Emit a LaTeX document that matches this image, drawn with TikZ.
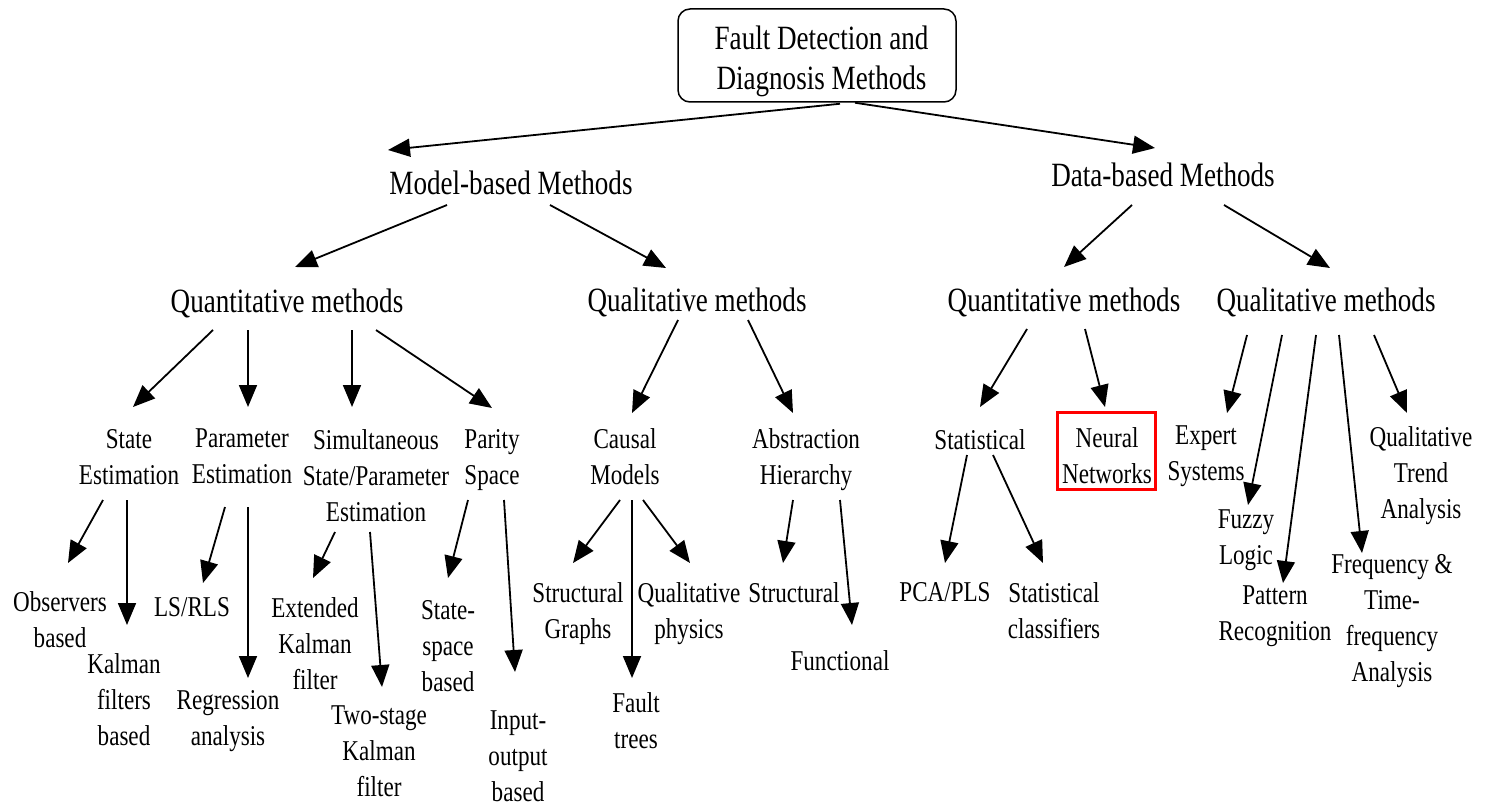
\documentclass[tikz,border=0pt]{standalone}
\usepackage{fontspec}
\setmainfont{Liberation Serif}[FakeStretch=0.805]
\newfontfamily\bigfam{Liberation Serif}[FakeStretch=0.797]
\newfontfamily\smallfam{Liberation Serif}[FakeStretch=0.805]
\usetikzlibrary{arrows.meta}
\begin{document}
\begin{tikzpicture}[x=1pt,y=-1pt,
  sm/.style={align=center,inner sep=0pt,anchor=north,font=\smallfam\fontsize{28.7}{36}\selectfont},
  bg/.style={align=center,inner sep=0pt,anchor=north,font=\bigfam\fontsize{34}{40}\selectfont},
  arr/.style={line width=1.8pt,-{Triangle[length=22pt,width=18pt]}},
  titlebox/.style={draw,line width=1.5pt,rounded corners=12pt,minimum width=278pt,minimum height=93pt,inner sep=0pt},
  nnbox/.style={draw=red,line width=3pt}]
\useasboundingbox (0,0) rectangle (1487,805);
% title
\node[titlebox] (title) at (817,55.5) {};
\node[bg] (titletext) at (821.5,26) {Fault Detection and\\Diagnosis Methods};
% level 1
\node[bg] (model) at (511,171) {Model-based Methods};
\node[bg] (data) at (1163,163) {Data-based Methods};
% level 2
\node[bg] (quantL) at (287,289) {Quantitative methods};
\node[bg] (qualL) at (697,288) {Qualitative methods};
\node[bg] (quantR) at (1064,288) {Quantitative methods};
\node[bg] (qualR) at (1326,288) {Qualitative methods};
% level 3
\node[sm] (state) at (129,429) {State\\Estimation};
\node[sm] (param) at (242,429) {Parameter\\Estimation};
\node[sm] (simul) at (376,429) {Simultaneous\\State/Parameter\\Estimation};
\node[sm] (parity) at (492,429) {Parity\\Space};
\node[sm] (causal) at (625,428) {Causal\\Models};
\node[sm] (abstr) at (806,428) {Abstraction\\Hierarchy};
\node[sm] (statist) at (980,429) {Statistical};
\node[sm] (neural) at (1107,427) {Neural\\Networks};
\node[sm] (expert) at (1206,426) {Expert\\Systems};
\node[sm] (qtrend) at (1421,426) {Qualitative\\Trend\\Analysis};
% level 4
\node[sm] (observers) at (60,591) {Observers\\based};
\node[sm] (kalmanF) at (124,653) {Kalman\\filters\\based};
\node[sm] (lsrls) at (192,597) {LS/RLS};
\node[sm] (regression) at (228,690) {Regression\\analysis};
\node[sm] (ekf) at (315,597) {Extended\\Kalman\\filter};
\node[sm] (twostage) at (379,705) {Two-stage\\Kalman\\filter};
\node[sm] (statespace) at (448,600) {State-\\space\\based};
\node[sm] (inputoutput) at (518,710) {Input-\\output\\based};
\node[sm] (structgraphs) at (578,582) {Structural\\Graphs};
\node[sm] (faulttrees) at (636,692) {Fault\\trees};
\node[sm] (qualphys) at (689,582) {Qualitative\\physics};
\node[sm] (structural) at (794,582) {Structural};
\node[sm] (functional) at (840,650) {Functional};
\node[sm] (pcapls) at (945,582) {PCA/PLS};
\node[sm] (statclass) at (1054,582) {Statistical\\classifiers};
\node[sm] (fuzzy) at (1246,510) {Fuzzy\\Logic};
\node[sm] (pattern) at (1275,586) {Pattern\\Recognition};
\node[sm] (freq) at (1392,554) {Frequency \&\\Time-\\frequency\\Analysis};
% red highlight box
\draw[nnbox] ([shift={(-50,-15)}]neural.north) rectangle ([shift={(48,62)}]neural.north);
% arrows level 0-1
\draw[arr] ([shift={(23,1)}]title.south) -- ([shift={(-123,-21)}]model.north);
\draw[arr] ([shift={(38,0)}]title.south) -- ([shift={(-8,-15)}]data.north);
% level 1-2
\draw[arr] ([shift={(-64,34)}]model.north) -- ([shift={(8,-22)}]quantL.north);
\draw[arr] ([shift={(39,34)}]model.north) -- ([shift={(-31,-20)}]qualL.north);
\draw[arr] ([shift={(-31,42)}]data.north) -- ([shift={(0,-21)}]quantR.north);
\draw[arr] ([shift={(61,42)}]data.north) -- ([shift={(4,-20)}]qualR.north);
% level 2-3
\draw[arr] ([shift={(-74,41)}]quantL.north) -- ([shift={(4,-22)}]state.north);
\draw[arr] ([shift={(-39,41)}]quantL.north) -- ([shift={(6,-22)}]param.north);
\draw[arr] ([shift={(65,41)}]quantL.north) -- ([shift={(-24,-22)}]simul.north);
\draw[arr] ([shift={(89,41)}]quantL.north) -- ([shift={(0,-21)}]parity.north);
\draw[arr] ([shift={(-19,32)}]qualL.north) -- ([shift={(7,-15)}]causal.north);
\draw[arr] ([shift={(51,32)}]qualL.north) -- ([shift={(-13,-15)}]abstr.north);
\draw[arr] ([shift={(-37,41)}]quantR.north) -- ([shift={(0,-22)}]statist.north);
\draw[arr] ([shift={(21,41)}]quantR.north) -- ([shift={(-2,-20)}]neural.north);
\draw[arr] ([shift={(-79,47)}]qualR.north) -- ([shift={(21,-13)}]expert.north);
\draw[arr] ([shift={(-44,47)}]qualR.north) -- ([shift={(2,-5)}]fuzzy.north);
\draw[arr] ([shift={(-10,47)}]qualR.north) -- ([shift={(8,-3)}]pattern.north);
\draw[arr] ([shift={(13,47)}]qualR.north) -- ([shift={(-30,-1)}]freq.north);
\draw[arr] ([shift={(48,47)}]qualR.north) -- ([shift={(-14,-13)}]qtrend.north);
% level 3-4
\draw[arr] ([shift={(-26,71)}]state.north) -- ([shift={(8,-28)}]observers.north);
\draw[arr] ([shift={(-2,71)}]state.north) -- ([shift={(3,-28)}]kalmanF.north);
\draw[arr] ([shift={(-17,78)}]param.north) -- ([shift={(11,-14)}]lsrls.north);
\draw[arr] ([shift={(6,78)}]param.north) -- ([shift={(20,-12)}]regression.north);
\draw[arr] ([shift={(-41,103)}]simul.north) -- ([shift={(-2,-19)}]ekf.north);
\draw[arr] ([shift={(-6,103)}]simul.north) -- ([shift={(3,-18)}]twostage.north);
\draw[arr] ([shift={(-24,71)}]parity.north) -- ([shift={(0,-22)}]statespace.north);
\draw[arr] ([shift={(12,71)}]parity.north) -- ([shift={(-3,-38)}]inputoutput.north);
\draw[arr] ([shift={(-5,72)}]causal.north) -- ([shift={(-5,-19)}]structgraphs.north);
\draw[arr] ([shift={(7,72)}]causal.north) -- ([shift={(-4,-14)}]faulttrees.north);
\draw[arr] ([shift={(18,72)}]causal.north) -- ([shift={(1,-19)}]qualphys.north);
\draw[arr] ([shift={(-13,72)}]abstr.north) -- ([shift={(-11,-19)}]structural.north);
\draw[arr] ([shift={(34,72)}]abstr.north) -- ([shift={(12,-25)}]functional.north);
\draw[arr] ([shift={(-13,26)}]statist.north) -- ([shift={(0,-19)}]pcapls.north);
\draw[arr] ([shift={(13,26)}]statist.north) -- ([shift={(-11,-19)}]statclass.north);
\end{tikzpicture}
\end{document}
